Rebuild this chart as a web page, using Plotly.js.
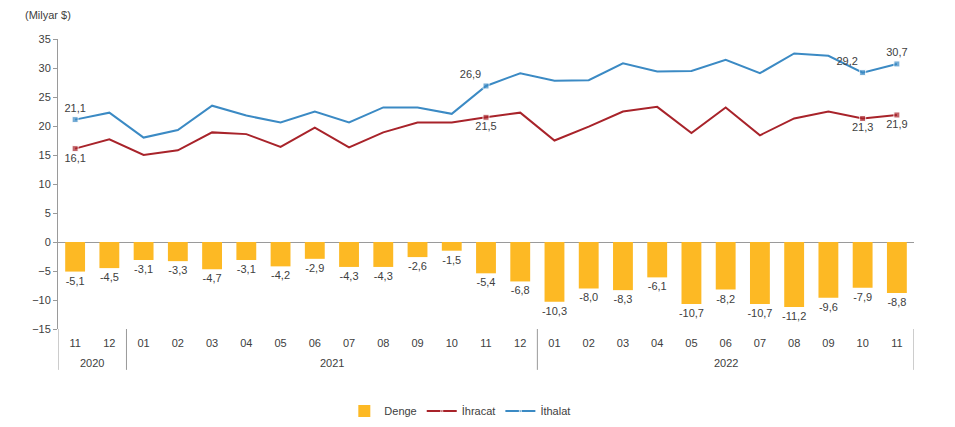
<!DOCTYPE html>
<html>
<head>
<meta charset="utf-8">
<script src="https://cdn.plot.ly/plotly-3.0.1.min.js"></script>
<style>html,body{margin:0;padding:0;background:#fff;}#chart{width:955px;height:427px;}</style>
</head>
<body>
<div id="chart"></div>
<script>
const years = ['2020','2020','2021','2021','2021','2021','2021','2021','2021','2021','2021','2021','2021','2021','2022','2022','2022','2022','2022','2022','2022','2022','2022','2022','2022'];
const months = ['11','12','01','02','03','04','05','06','07','08','09','10','11','12','01','02','03','04','05','06','07','08','09','10','11'];
const denge = [-5.1,-4.5,-3.1,-3.3,-4.7,-3.1,-4.2,-2.9,-4.3,-4.3,-2.6,-1.5,-5.4,-6.8,-10.3,-8.0,-8.3,-6.1,-10.7,-8.2,-10.7,-11.2,-9.6,-7.9,-8.8];
const ihracat = [16.1,17.7,15.0,15.8,18.9,18.6,16.4,19.7,16.3,18.9,20.6,20.6,21.5,22.3,17.5,19.9,22.5,23.3,18.8,23.2,18.4,21.3,22.5,21.3,21.9];
const ithalat = [21.1,22.3,18.0,19.3,23.5,21.8,20.6,22.5,20.6,23.2,23.2,22.1,26.9,29.1,27.8,27.9,30.8,29.4,29.5,31.4,29.1,32.5,32.1,29.2,30.7];
const labelIdx = [0,12,23,24];

const fmt = v => v.toFixed(1).replace('.', ',');
const x = months.map((m,i) => i);
const lbl = arr => arr.map((v,i) => labelIdx.includes(i) ? fmt(v) : '');
const msz = arr => arr.map((v,i) => labelIdx.includes(i) ? 6 : 0);
const txtColor = '#404040';
const gray = '#9a9a9a';

// year groups derived from the years array
const groups = [];
years.forEach((y,i) => {
  const g = groups[groups.length-1];
  if (g && g.year === y) g.end = i; else groups.push({year:y, start:i, end:i});
});
const annotations = groups.map(g => ({
  x:(g.start+g.end)/2, xref:'x', y:-0.117, yref:'paper', text:g.year, showarrow:false,
  xanchor:'center', yanchor:'middle', font:{size:11, color:txtColor}
}));
const bounds = [groups[0].start-0.5].concat(groups.map(g => g.end+0.5));
const shapes = bounds.map(b => ({type:'line', xref:'x', yref:'paper', x0:b, x1:b, y0:0, y1:-0.141, line:{color:gray, width:1}}));

const ithPos = ithalat.map((v,i) => i===0 ? 'top center' : (i===24 ? 'top center' : 'top left'));

const traces = [
  {type:'bar', name:'Denge', x:x, y:denge, marker:{color:'#FDB924'},
   text:denge.map(fmt), textposition:'outside', constraintext:'none', cliponaxis:false,
   textfont:{size:11, color:txtColor}, width:0.58},
  {type:'scatter', mode:'lines+markers+text', name:'İhracat', x:x, y:ihracat,
   line:{color:'#A8232A', width:2}, marker:{symbol:'square', size:msz(ihracat), color:'#A8232A'},
   text:lbl(ihracat), textposition:'bottom center', textfont:{size:11, color:txtColor}, cliponaxis:false},
  {type:'scatter', mode:'lines+markers+text', name:'İthalat', x:x, y:ithalat,
   line:{color:'#3B8AC4', width:2}, marker:{symbol:'square', size:msz(ithalat), color:'#3B8AC4'},
   text:lbl(ithalat), textposition:ithPos, textfont:{size:11, color:txtColor}, cliponaxis:false}
];

const layout = {
  width:955, height:427,
  margin:{l:58, r:41, t:39, b:98, autoexpand:false},
  paper_bgcolor:'#fff', plot_bgcolor:'#fff',
  font:{family:'Liberation Sans, Arial, sans-serif', size:11, color:txtColor},
  separators:', ',
  showlegend:true,
  legend:{orientation:'h', x:0.470, xanchor:'center', y:-0.283, yanchor:'middle', font:{size:11, color:txtColor}},
  title:{text:'(Milyar $)', x:25/955, xanchor:'left', xref:'container', y:1-15/427, yref:'container', yanchor:'middle', font:{size:11, color:txtColor}},
  yaxis:{range:[-15,35], dtick:5, showgrid:false, zeroline:true, zerolinecolor:gray, zerolinewidth:1,
         showline:true, linecolor:gray, linewidth:1, ticks:'outside', ticklen:4, tickcolor:gray,
         tickfont:{size:11, color:txtColor}, fixedrange:true},
  xaxis:{range:[-0.5, months.length-0.5], tickvals:x, ticktext:months, showgrid:false, showline:false, zeroline:false,
         ticks:'', ticklabelstandoff:6, tickfont:{size:11, color:txtColor}, fixedrange:true},
  bargap:0.42,
  annotations:annotations,
  shapes:shapes
};

Plotly.newPlot('chart', traces, layout, {staticPlot:true, displayModeBar:false});
</script>
</body>
</html>
